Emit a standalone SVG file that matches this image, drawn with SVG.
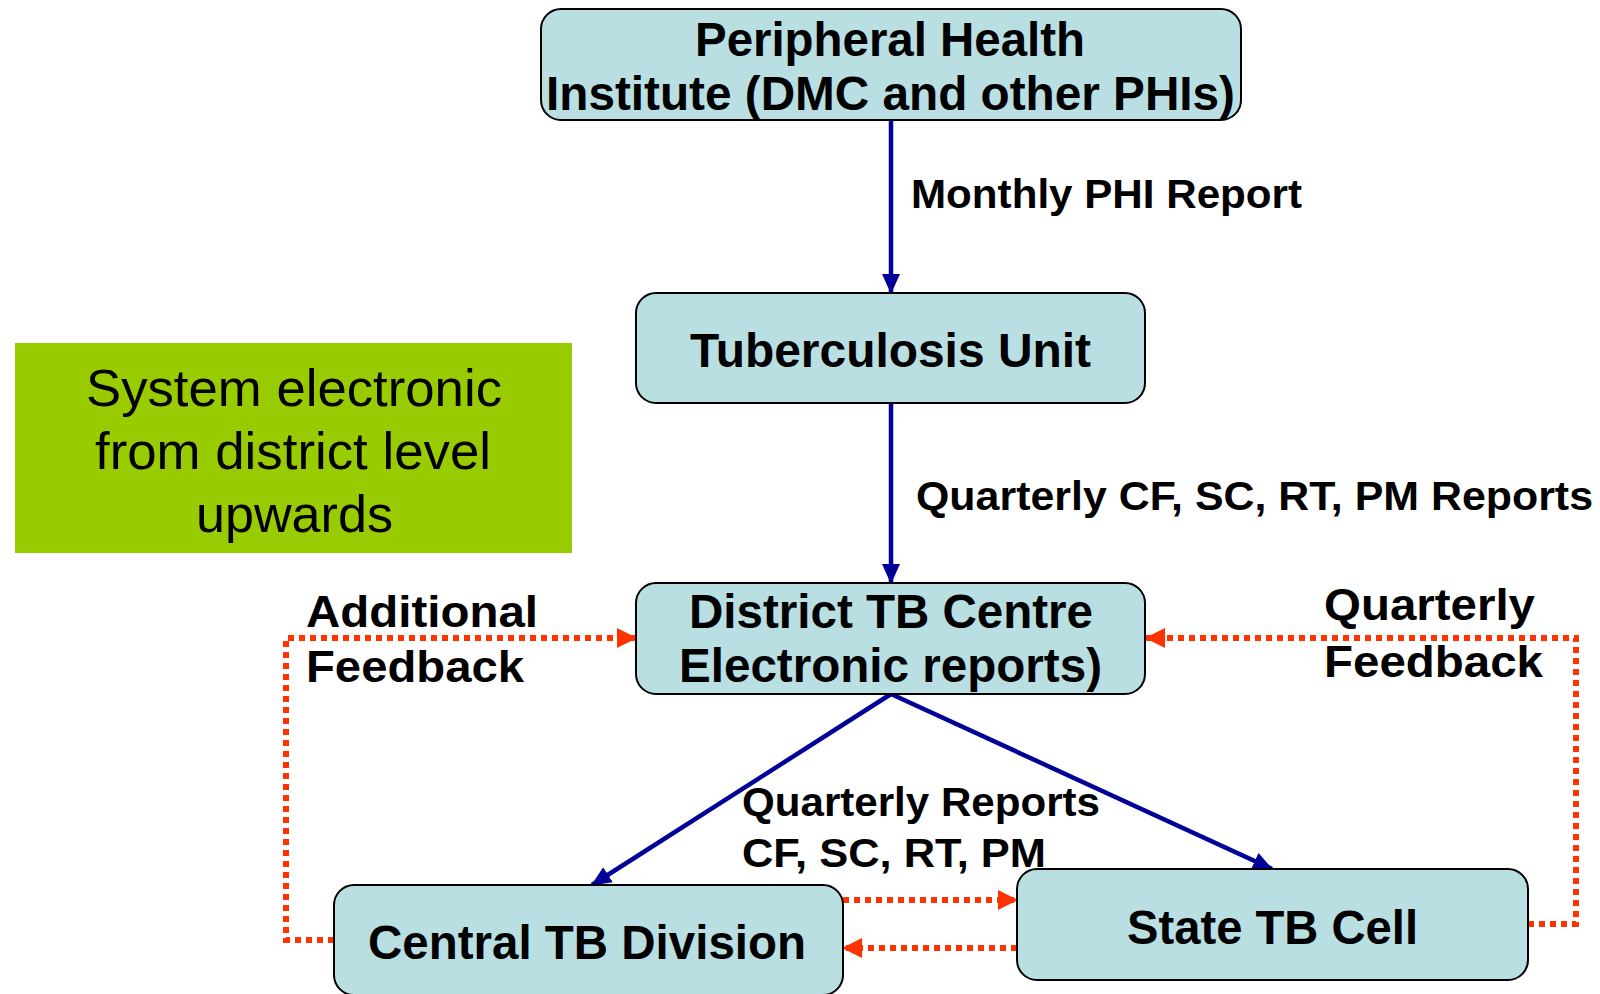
<svg xmlns="http://www.w3.org/2000/svg" width="1600" height="994" viewBox="0 0 1600 994">
<style>
.box{fill:#B9DFE2;stroke:#000;stroke-width:2}
.t{font-family:"Liberation Sans",Arial,sans-serif;font-weight:bold;fill:#000}
.bt{font-size:48px}
.lb{font-size:40px}
.fb{font-size:45px}
.g{font-family:"Liberation Sans",Arial,sans-serif;font-size:52px;fill:#000}
.blue{stroke:#000099;stroke-width:4.5;fill:none}
.red{stroke:#FF3300;stroke-width:6;fill:none;stroke-dasharray:6 5}
</style>
<defs>
<marker id="ab" markerUnits="userSpaceOnUse" markerWidth="20" markerHeight="18" refX="19" refY="9" orient="auto">
<path d="M0,0 L20,9 L0,18 Z" fill="#000099"/>
</marker>
<marker id="ar" markerUnits="userSpaceOnUse" markerWidth="20" markerHeight="20" refX="19" refY="10" orient="auto">
<path d="M0,0 L20,10 L0,20 Z" fill="#FF3300"/>
</marker>
</defs>
<rect width="1600" height="994" fill="#fff"/>
<g id="note">
<rect x="15" y="343" width="557" height="210" fill="#99CC00"/>
<text class="g" x="86" y="406" textLength="416" lengthAdjust="spacingAndGlyphs">System electronic</text>
<text class="g" x="95" y="469" textLength="396" lengthAdjust="spacingAndGlyphs">from district level</text>
<text class="g" x="196" y="532" textLength="197" lengthAdjust="spacingAndGlyphs">upwards</text>
</g>
<g id="connectors">
<line class="blue" x1="891" y1="120" x2="891" y2="293" marker-end="url(#ab)"/>
<line class="blue" x1="891" y1="403" x2="891" y2="583" marker-end="url(#ab)"/>
<line class="blue" x1="891" y1="694" x2="592" y2="885" marker-end="url(#ab)"/>
<line class="blue" x1="891" y1="694" x2="1272" y2="869" marker-end="url(#ab)"/>
<polyline class="red" points="334,940 286,940 286,638 636,638" marker-end="url(#ar)"/>
<polyline class="red" points="1528,924 1576,924 1576,638 1146,638" marker-end="url(#ar)"/>
<line class="red" x1="843" y1="900" x2="1017" y2="900" marker-end="url(#ar)"/>
<line class="red" x1="1017" y1="948" x2="843" y2="948" marker-end="url(#ar)"/>
</g>
<g id="labels">
<text class="t lb" x="911" y="208" textLength="391" lengthAdjust="spacingAndGlyphs">Monthly PHI Report</text>
<text class="t lb" x="916" y="510" textLength="677" lengthAdjust="spacingAndGlyphs">Quarterly CF, SC, RT, PM Reports</text>
<text class="t fb" x="306" y="627" textLength="232" lengthAdjust="spacingAndGlyphs">Additional</text>
<text class="t fb" x="306" y="682" textLength="218" lengthAdjust="spacingAndGlyphs">Feedback</text>
<text class="t fb" x="1324" y="620" textLength="211" lengthAdjust="spacingAndGlyphs">Quarterly</text>
<text class="t fb" x="1324" y="677" textLength="219" lengthAdjust="spacingAndGlyphs">Feedback</text>
<text class="t lb" x="742" y="816" textLength="358" lengthAdjust="spacingAndGlyphs">Quarterly Reports</text>
<text class="t lb" x="742" y="867" textLength="304" lengthAdjust="spacingAndGlyphs">CF, SC, RT, PM</text>
</g>
<g id="phi">
<rect class="box" x="541" y="9" width="700" height="111" rx="20"/>
<text class="t bt" x="695" y="56" textLength="390" lengthAdjust="spacingAndGlyphs">Peripheral Health</text>
<text class="t bt" x="546" y="110" textLength="689" lengthAdjust="spacingAndGlyphs">Institute (DMC and other PHIs)</text>
</g>
<g id="tu">
<rect class="box" x="636" y="293" width="509" height="110" rx="20"/>
<text class="t bt" x="690" y="367" textLength="401" lengthAdjust="spacingAndGlyphs">Tuberculosis Unit</text>
</g>
<g id="dtc">
<rect class="box" x="636" y="583" width="509" height="111" rx="20"/>
<text class="t bt" x="689" y="628" textLength="404" lengthAdjust="spacingAndGlyphs">District TB Centre</text>
<text class="t bt" x="679" y="682" textLength="423" lengthAdjust="spacingAndGlyphs">Electronic reports)</text>
</g>
<g id="ctd">
<rect class="box" x="334" y="885" width="509" height="110" rx="20"/>
<text class="t bt" x="368" y="959" textLength="438" lengthAdjust="spacingAndGlyphs">Central TB Division</text>
</g>
<g id="stc">
<rect class="box" x="1017" y="869" width="511" height="111" rx="20"/>
<text class="t bt" x="1127" y="944" textLength="291" lengthAdjust="spacingAndGlyphs">State TB Cell</text>
</g>
</svg>
